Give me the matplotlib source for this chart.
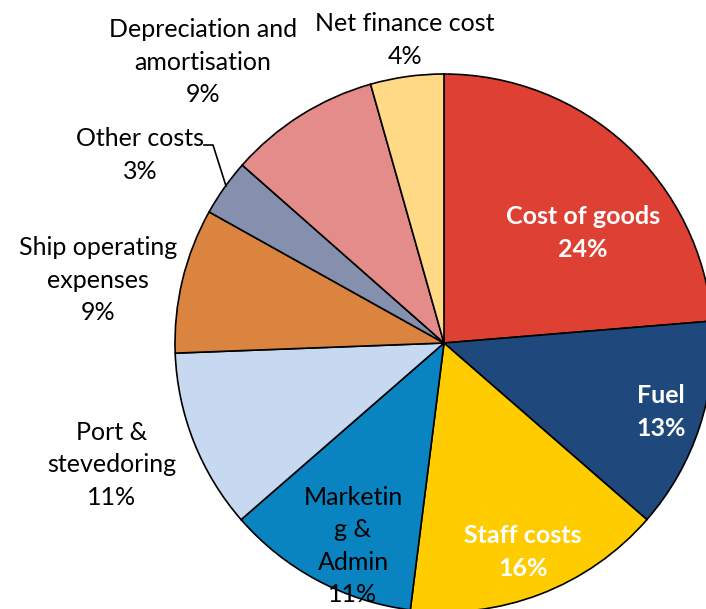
import matplotlib.pyplot as plt

plt.rcParams['font.family'] = ['Lato', 'DejaVu Sans']

labels = ['Cost of goods', 'Fuel', 'Staff costs', 'Marketin\ng &\nAdmin',
          'Port &\nstevedoring', 'Ship operating\nexpenses', 'Other costs',
          'Depreciation and\namortisation', 'Net finance cost']
shares = [23.7, 12.7, 15.6, 11.6, 10.8, 8.7, 3.4, 9.1, 4.4]
pct_labels = ['24%', '13%', '16%', '11%', '11%', '9%', '3%', '9%', '4%']
colors = ['#DE4033', '#1F497D', '#FFCC00', '#0A84C1', '#C6D9F1',
          '#DA843F', '#8590AF', '#E48C8A', '#FFD986']

# label positions in pixel coords (x, y from top), white bold inside or black outside
label_pos = [(583, 233), (661, 412), (523, 552), (353, 546), (112, 465),
             (98, 280), (140, 155), (203, 62), (405, 40)]
label_white = [True, True, True, False, False, False, False, False, False]

W, H = 706, 609
fig = plt.figure(figsize=(W / 100, H / 100), dpi=100)
ax = fig.add_axes([0, 0, 1, 1])

ax.pie(shares, colors=colors, startangle=90, counterclock=False,
       center=(444, H - 343), radius=269, frame=True,
       wedgeprops=dict(edgecolor='black', linewidth=1.2))
ax.set_xlim(0, W)
ax.set_ylim(0, H)
ax.set_aspect('equal')
ax.axis('off')

for lab, pct, (x, y), white in zip(labels, pct_labels, label_pos, label_white):
    ax.text(x, H - y, f'{lab}\n{pct}', ha='center', va='center',
            fontsize=18, linespacing=1.48,
            color='white' if white else 'black',
            fontweight='bold' if white else 'normal')

# leader line for "Other costs"
ax.plot([204, 213, 226], [H - 145, H - 145, H - 186], color='black', lw=1.2)

fig.savefig('out.png', dpi=100)
